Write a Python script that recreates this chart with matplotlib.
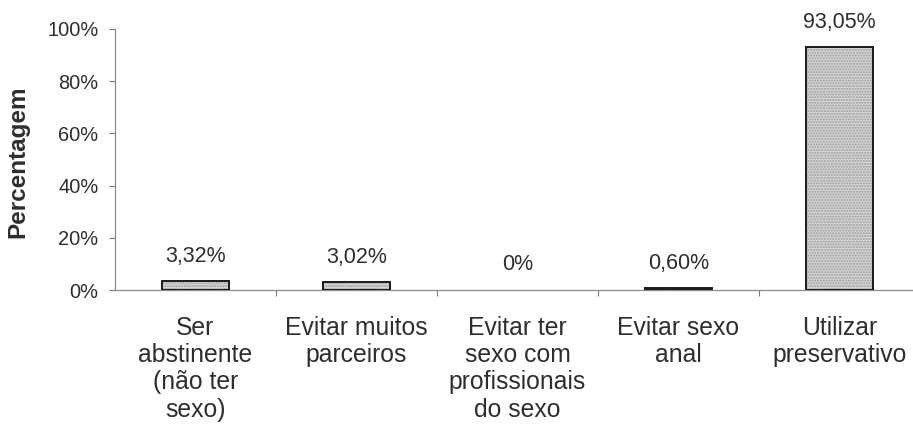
import matplotlib.pyplot as plt
import numpy as np

# preventive measures and share of answers (%)
categorias = ['Ser\nabstinente\n(não ter\nsexo)', 'Evitar muitos\nparceiros',
              'Evitar ter\nsexo com\nprofissionais\ndo sexo', 'Evitar sexo\nanal',
              'Utilizar\npreservativo']
valores = [3.32, 3.02, 0.0, 0.60, 93.05]
rotulos = ['3,32%', '3,02%', '0%', '0,60%', '93,05%']
yticks = [0, 20, 40, 60, 80, 100]

plt.rcParams['font.family'] = ['Liberation Sans', 'DejaVu Sans']
cor_texto = '#2e2e2e'

fig = plt.figure(figsize=(9.13, 4.30), dpi=100)
ax = fig.add_axes([115 / 913, 140 / 430, 805 / 913, 261 / 430])

x = np.arange(len(categorias))
largura = 0.42
# a bar of zero height gets no outline
bordas = [1.4 if v > 0 else 0 for v in valores]

# stippled fill, then a black outline on top
ax.bar(x, valores, width=largura, color='#d6d6d6', hatch='......',
       edgecolor='#9a9a9a', linewidth=0, zorder=2)
ax.bar(x, valores, width=largura, fill=False, edgecolor='#1a1a1a',
       linewidth=bordas, zorder=3)

for xi, v, r in zip(x, valores, rotulos):
    ax.annotate(r, (xi, v), xytext=(0, 10.5), textcoords='offset points',
                ha='center', va='bottom', fontsize=15.5, color=cor_texto)

ax.set_xlim(-0.5, len(categorias) - 0.5)
ax.set_ylim(0, 100)
ax.set_yticks(yticks)
ax.set_yticklabels([f'{t}%' for t in yticks])

ax.set_xticks(x)
ax.set_xticklabels(categorias, fontsize=17.8, color=cor_texto, linespacing=1.16)
ax.set_xticks(x[:-1] + 0.5, minor=True)
ax.tick_params(axis='x', which='major', length=0, pad=19)
ax.tick_params(axis='x', which='minor', length=4, width=0.8, color='#777777')
ax.tick_params(axis='y', length=4, width=0.8, color='#777777', pad=8,
               labelsize=14.4, labelcolor=cor_texto)

for lado in ['top', 'right']:
    ax.spines[lado].set_visible(False)
for lado in ['left', 'bottom']:
    ax.spines[lado].set_color('#8a8a8a')
    ax.spines[lado].set_linewidth(0.9)

ax.set_ylabel('Percentagem', fontsize=17.5, fontweight='bold', color=cor_texto)
ax.yaxis.set_label_coords(-0.106, 0.49)

fig.savefig('out.png', dpi=100)
